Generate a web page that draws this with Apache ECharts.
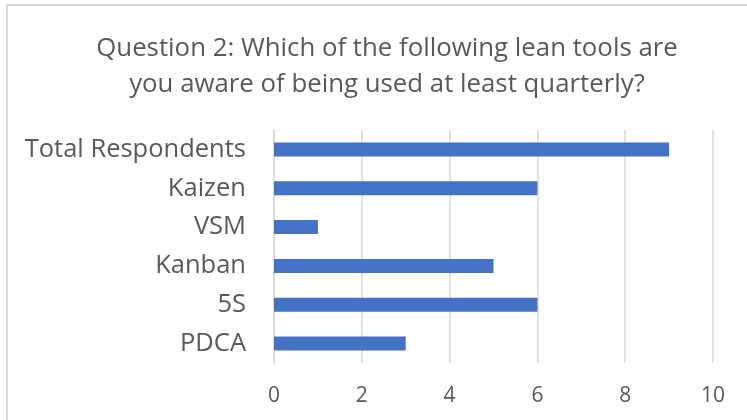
<!DOCTYPE html>
<html><head><meta charset="utf-8">
<script src="https://cdn.jsdelivr.net/npm/echarts@6/dist/echarts.min.js"></script>
<style>html,body{margin:0;padding:0;background:#fff}#c{width:747px;height:420px}</style>
</head><body><div id="c"></div>
<script>
const categories = ["PDCA", "5S", "Kanban", "VSM", "Kaizen", "Total Respondents"];
const values = [3, 6, 5, 1, 6, 9];
const xTicks = [0, 2, 4, 6, 8, 10];
const titleText = "Question 2: Which of the following lean tools are\nyou aware of being used at least quarterly?";

const chart = echarts.init(document.getElementById('c'), null, {renderer: 'canvas'});
chart.setOption({
  animation: false,
  backgroundColor: '#fff',
  title: {
    text: titleText,
    left: 382, top: 26, textAlign: 'center',
    textStyle: {fontFamily: 'Open Sans', fontSize: 25.8, fontWeight: 'normal', color: '#595959', lineHeight: 36}
  },
  graphic: [{
    type: 'rect', shape: {x: 7, y: 5, width: 800, height: 500},
    style: {fill: 'none', stroke: '#d9d9d9', lineWidth: 2}, silent: true
  }],
  grid: {left: 274, right: 34, top: 130, bottom: 57, containLabel: false},
  xAxis: {
    type: 'value', min: xTicks[0], max: xTicks[xTicks.length - 1], interval: 2,
    axisLine: {show: false}, axisTick: {show: false},
    axisLabel: {color: '#595959', fontFamily: 'Open Sans', fontSize: 21, margin: 23},
    splitLine: {lineStyle: {color: '#d9d9d9', width: 1.5}}
  },
  yAxis: {
    type: 'category', data: categories,
    axisLine: {lineStyle: {color: '#d9d9d9', width: 1.5}}, axisTick: {show: false},
    axisLabel: {color: '#595959', fontFamily: 'Open Sans', fontSize: 25.5, margin: 28}
  },
  series: [{
    type: 'bar', data: values, barWidth: '36%',
    itemStyle: {color: '#4472c4'}
  }]
});
</script></body></html>
